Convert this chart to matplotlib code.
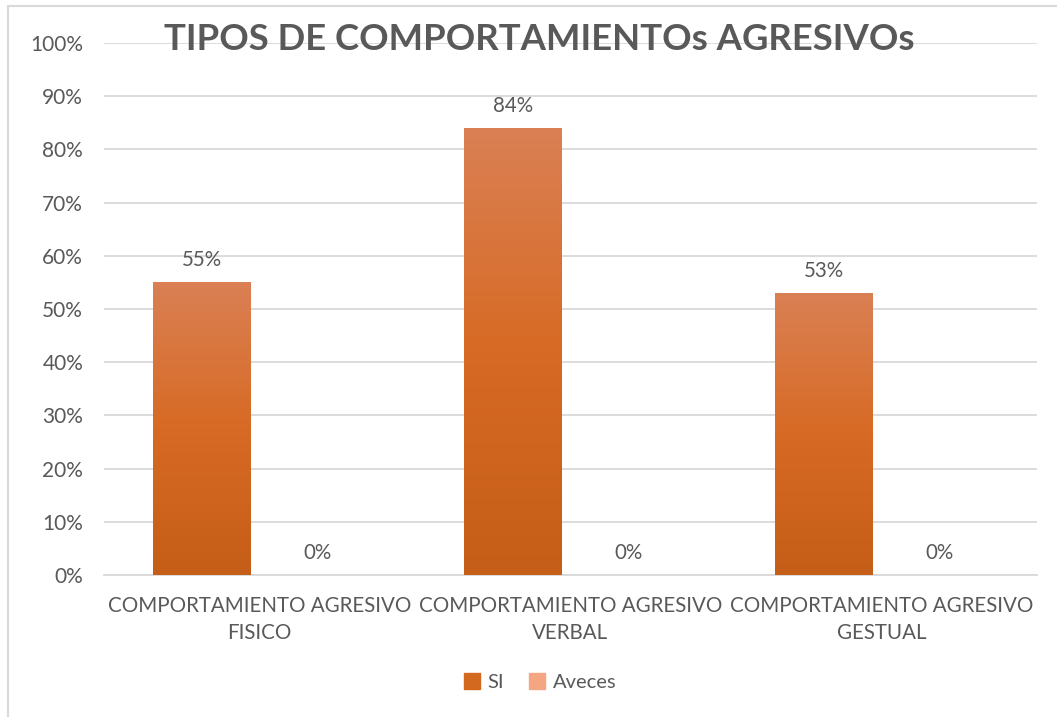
import numpy as np
import matplotlib
matplotlib.use("Agg")
import matplotlib.pyplot as plt
from matplotlib.patches import Rectangle
from matplotlib.colors import LinearSegmentedColormap

plt.rcParams['font.family'] = ['Lato', 'DejaVu Sans']

# ---------------- data ----------------
categories = ['COMPORTAMIENTO AGRESIVO\nFISICO',
              'COMPORTAMIENTO AGRESIVO\nVERBAL',
              'COMPORTAMIENTO AGRESIVO\nGESTUAL']
si_values = [55, 84, 53]
aveces_values = [0, 0, 0]
series_names = ['SI', 'Aveces']
title = 'TIPOS DE COMPORTAMIENTOs AGRESIVOs'

text_color = '#595959'
grid_color = '#D9D9D9'
si_color = '#D2691E'
aveces_color = '#F4A582'

# gradient for SI bars (bottom -> top)
grad = LinearSegmentedColormap.from_list('si_grad', ['#C55E18', '#D76A24', '#DA8054'])

fig = plt.figure(figsize=(10.57, 7.17), dpi=100)
ax = fig.add_axes([104/1057, 1 - 575/717, (1037 - 104)/1057, (575 - 43)/717])

x = np.arange(len(categories))
w = 0.312
off = 0.185

bars_si = ax.bar(x - off, si_values, w, color=si_color, zorder=3, label=series_names[0])
bars_av = ax.bar(x + off, aveces_values, w, color=aveces_color, zorder=3, label=series_names[1])

# paint gradient inside SI bars
g = np.linspace(0, 1, 256).reshape(-1, 1)
for b in bars_si:
    bx, by = b.get_x(), b.get_y()
    bw, bh = b.get_width(), b.get_height()
    im = ax.imshow(g, cmap=grad, origin='lower', aspect='auto',
                   extent=[bx, bx + bw, by, by + bh], zorder=4)
    im.set_clip_path(b)

for b, v in zip(bars_si, si_values):
    ax.text(b.get_x() + b.get_width()/2, v + 2.3, f'{v}%', ha='center', va='bottom',
            fontsize=14.8, color=text_color, zorder=5)
for b, v in zip(bars_av, aveces_values):
    ax.text(b.get_x() + b.get_width()/2, v + 2.3, f'{v}%', ha='center', va='bottom',
            fontsize=14.8, color=text_color, zorder=5)

ax.set_xlim(-0.5, len(categories) - 0.5)
ax.set_ylim(0, 100)
ax.set_yticks(np.arange(0, 101, 10))
ax.set_yticklabels([f'{t}%' for t in range(0, 101, 10)])
ax.set_xticks(x)
ax.set_xticklabels(categories)
ax.tick_params(axis='y', length=0, pad=15, labelsize=15, labelcolor=text_color)
ax.tick_params(axis='x', length=0, pad=15, labelsize=14.8, labelcolor=text_color)
for lbl in ax.get_xticklabels():
    lbl.set_linespacing(1.45)

ax.grid(axis='y', color=grid_color, linewidth=1.3, zorder=0)
for s in ['left', 'right', 'top']:
    ax.spines[s].set_visible(False)
ax.spines['bottom'].set_color(grid_color)
ax.spines['bottom'].set_linewidth(1.3)

fig.text(539/1057, 1 - 40/717, title, ha='center', va='center', fontsize=26.3,
         fontweight='bold', color=text_color)

leg = fig.legend(handles=[Rectangle((0, 0), 1, 1, color=si_color),
                          Rectangle((0, 0), 1, 1, color=aveces_color)],
                 labels=series_names, loc='center', bbox_to_anchor=(540/1057, 1 - 682/717),
                 ncol=2, frameon=False, fontsize=14.5, handlelength=0.8, handleheight=0.8,
                 handletextpad=0.4, columnspacing=1.2, labelcolor=text_color)

# chart area border
fig.patches.append(Rectangle((8/1057, -0.05), 1.1, 1 - 6/717 + 0.05,
                             transform=fig.transFigure, fill=False,
                             edgecolor=grid_color, linewidth=1.5))

fig.savefig('out.png', dpi=100)
